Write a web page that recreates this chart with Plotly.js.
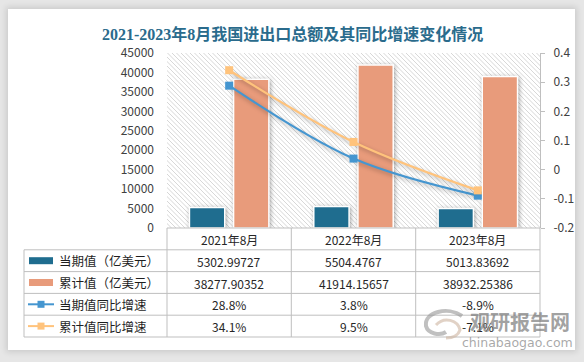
<!DOCTYPE html>
<html>
<head>
<meta charset="utf-8">
<script src="https://cdn.plot.ly/plotly-3.0.1.min.js"></script>
<style>
  html, body { margin: 0; padding: 0; background: #fff; }
  #frame { position: absolute; left: 0; top: 0; width: 584px; height: 362px; background: #e6e6e6; overflow: hidden; }
  #panel { position: absolute; left: 8px; top: 9px; width: 567px; height: 341px; background: #fff; box-shadow: 0 0 6px 2px rgba(0,0,0,0.12); }
  #chart { position: absolute; left: 0; top: 0; width: 584px; height: 362px; }
  .barlayer .point path { filter: drop-shadow(1px 1px 2px rgba(0,0,0,0.35)); }
  .scatterlayer .js-line { filter: drop-shadow(1px 2px 2px rgba(0,0,0,0.3)); }
</style>
</head>
<body>
<div id="frame"><div id="panel"></div></div>
<div id="chart"></div>
<script>
// ---- data ----
const categories = ['2021年8月', '2022年8月', '2023年8月'];
const currentValue = [5302.99727, 5504.4767, 5013.83692];      // 当期值（亿美元）
const cumulativeValue = [38277.90352, 41914.15657, 38932.25386]; // 累计值（亿美元）
const currentGrowth = [0.288, 0.038, -0.089];                    // 当期值同比增速
const cumulativeGrowth = [0.341, 0.095, -0.071];                 // 累计值同比增速
const seriesNames = ['当期值（亿美元）', '累计值（亿美元）', '当期值同比增速', '累计值同比增速'];
const leftTicks = [0, 5000, 10000, 15000, 20000, 25000, 30000, 35000, 40000, 45000];
const leftTickText = ['0', '5000', '10000', '15000', '20000', '25000', '30000', '35000', '40000', '45000'];
const rightTickVals = [-0.2, -0.1, 0, 0.1, 0.2, 0.3, 0.4];
const rightTickText = ['-0.2', '-0.1', '0', '0.1', '0.2', '0.3', '0.4'];
const titleText = '2021-2023年8月我国进出口总额及其同比增速变化情况';

// ---- styles ----
const C_DARK = '#1f6d8f', C_ORANGE = '#e89b7b', C_BLUE = '#4596d0', C_GOLD = '#ffc37c';
const FONT = 'Noto Sans CJK SC, Noto Sans, sans-serif';
const GRID = '#bfbfbf';
const W = 584, H = 362, ML = 167, MR = 44, MT = 53, MB = 134;
const PW = W - ML - MR, PH = H - MT - MB;
const px = v => (v - ML) / PW;
const py = v => (H - MB - v) / PH;

// hatched plot background
let hatch = '';
for (let k = -PH; k < PW; k += 4.5) hatch += `M${k},0L${k + PH},${PH}`;
const svg = `<svg xmlns="http://www.w3.org/2000/svg" width="${PW}" height="${PH}"><rect width="${PW}" height="${PH}" fill="#fff"/><path d="${hatch}" stroke="#cdcdcd" stroke-width="0.8" fill="none"/></svg>`;
const hatchSrc = 'data:image/svg+xml;charset=utf-8,' + encodeURIComponent(svg);

const traces = [
  { type: 'bar', x: categories, y: currentValue, name: seriesNames[0], marker: { color: C_DARK, line: { color: '#fff', width: 1.5 } }, hoverinfo: 'skip' },
  { type: 'bar', x: categories, y: cumulativeValue, name: seriesNames[1], marker: { color: C_ORANGE, line: { color: '#fff', width: 1.5 } }, hoverinfo: 'skip' },
  { type: 'scatter', mode: 'lines+markers', x: categories, y: currentGrowth, yaxis: 'y2', name: seriesNames[2], line: { color: C_BLUE, width: 2.2, shape: 'spline' }, marker: { symbol: 'square', size: 8, color: C_BLUE }, hoverinfo: 'skip' },
  { type: 'scatter', mode: 'lines+markers', x: categories, y: cumulativeGrowth, yaxis: 'y2', name: seriesNames[3], line: { color: C_GOLD, width: 2.2, shape: 'spline' }, marker: { symbol: 'square', size: 8, color: C_GOLD }, hoverinfo: 'skip' }
];

// ---- data table ----
const rowEdges = [228, 249.8, 271.6, 293.4, 315.2, 337];
const colEdges = [167, 291.3, 415.7, 540];
const shapes = [];
const annotations = [];
const line = (x0, y0, x1, y1) => shapes.push({ type: 'line', xref: 'paper', yref: 'paper', x0: px(x0), y0: py(y0), x1: px(x1), y1: py(y1), line: { color: GRID, width: 1 } });
line(167, 228, 540, 228);
for (let i = 1; i < rowEdges.length; i++) line(24, rowEdges[i], 540, rowEdges[i]);
line(24, rowEdges[1], 24, rowEdges[5]);
colEdges.forEach(c => line(c, 228, c, 337));

const ann = (o) => annotations.push(Object.assign({ showarrow: false, xanchor: 'center', yanchor: 'middle', yref: 'paper' }, o));
const rowCenter = i => (rowEdges[i] + rowEdges[i + 1]) / 2;
categories.forEach((c) => ann({ x: c, xref: 'x', y: py(rowCenter(0) + 0.5), text: c, font: { family: FONT, size: 12, color: '#262626' } }));
const fmtPct = v => (v * 100).toFixed(1) + '%';
const rows = [currentValue.map(String), cumulativeValue.map(String), currentGrowth.map(fmtPct), cumulativeGrowth.map(fmtPct)];
rows.forEach((r, i) => r.forEach((t, j) => ann({ x: categories[j], xref: 'x', y: py(rowCenter(i + 1) + 0.5), text: t, font: { family: FONT, size: 12, color: '#262626' } })));

// legend column
const keyColors = [C_DARK, C_ORANGE, C_BLUE, C_GOLD];
seriesNames.forEach((n, i) => {
  const yc = rowCenter(i + 1);
  if (i < 2) {
    shapes.push({ type: 'rect', xref: 'paper', yref: 'paper', x0: px(29), x1: px(53), y0: py(yc - 3.5), y1: py(yc + 3.5), fillcolor: keyColors[i], line: { width: 0 } });
  } else {
    shapes.push({ type: 'line', xref: 'paper', yref: 'paper', x0: px(28), x1: px(54), y0: py(yc), y1: py(yc), line: { color: keyColors[i], width: 2 } });
    shapes.push({ type: 'rect', xref: 'paper', yref: 'paper', x0: px(37.5), x1: px(44.5), y0: py(yc - 3.5), y1: py(yc + 3.5), fillcolor: keyColors[i], line: { width: 0 } });
  }
  ann({ x: px(57), xref: 'paper', xanchor: 'left', y: py(yc), text: n, font: { family: FONT, size: 12.5, color: '#1f1f1f' } });
});

// title
ann({ x: px(292), xref: 'paper', y: py(33.5), text: '<b>' + titleText + '</b>', font: { family: 'Liberation Serif, Noto Sans CJK SC, serif', size: 16, color: '#2a6b8c' } });

// watermark
ann({ x: px(520), xref: 'paper', y: py(321), text: '<b>观研报告网</b>', font: { family: FONT, size: 20, color: 'rgba(120,120,120,0.7)' } });
ann({ x: px(517), xref: 'paper', y: py(342), text: 'chinabaogao.com', font: { family: 'DejaVu Sans, sans-serif', size: 12.5, color: 'rgba(140,140,140,0.75)' } });
shapes.push({ type: 'path', xref: 'paper', yref: 'paper', path: `M${px(462)},${py(316)} C${px(448)},${py(306)} ${px(424)},${py(312)} ${px(426)},${py(326)} C${px(428)},${py(334)} ${px(440)},${py(336)} ${px(446)},${py(332)}`, line: { color: 'rgba(150,150,150,0.6)', width: 4 } });
shapes.push({ type: 'path', xref: 'paper', yref: 'paper', path: `M${px(436)},${py(325)} C${px(444)},${py(316)} ${px(458)},${py(320)} ${px(460)},${py(330)} C${px(458)},${py(336)} ${px(452)},${py(338)} ${px(446)},${py(338)}`, line: { color: 'rgba(205,180,160,0.6)', width: 3 } });

const layout = {
  width: W, height: H,
  margin: { l: ML, r: MR, t: MT, b: MB, pad: 0 },
  paper_bgcolor: 'rgba(0,0,0,0)',
  plot_bgcolor: 'rgba(0,0,0,0)',
  showlegend: false,
  barmode: 'group', bargap: 0.29, bargroupgap: 0.2,
  xaxis: { type: 'category', range: [-0.5, 2.5], showticklabels: false, showline: false, showgrid: false, zeroline: false, ticks: '', fixedrange: true },
  yaxis: { range: [0, 45000], tickvals: leftTicks, ticktext: leftTickText, showgrid: false, zeroline: false, showline: false, ticks: '', ticklabelstandoff: 12, tickfont: { family: FONT, size: 12, color: '#404040' }, fixedrange: true },
  yaxis2: { overlaying: 'y', side: 'right', range: [-0.2, 0.4], tickvals: rightTickVals, ticktext: rightTickText, showgrid: false, zeroline: false, showline: true, linecolor: GRID, linewidth: 1, ticks: 'outside', ticklen: 4, tickcolor: GRID, ticklabelstandoff: 6, tickfont: { family: FONT, size: 12, color: '#404040' }, fixedrange: true },
  images: [{ source: hatchSrc, xref: 'paper', yref: 'paper', x: 0, y: 1, sizex: 1, sizey: 1, sizing: 'stretch', xanchor: 'left', yanchor: 'top', layer: 'below' }],
  shapes: shapes,
  annotations: annotations
};

Plotly.newPlot('chart', traces, layout, { staticPlot: true, displayModeBar: false });
</script>
</body>
</html>
